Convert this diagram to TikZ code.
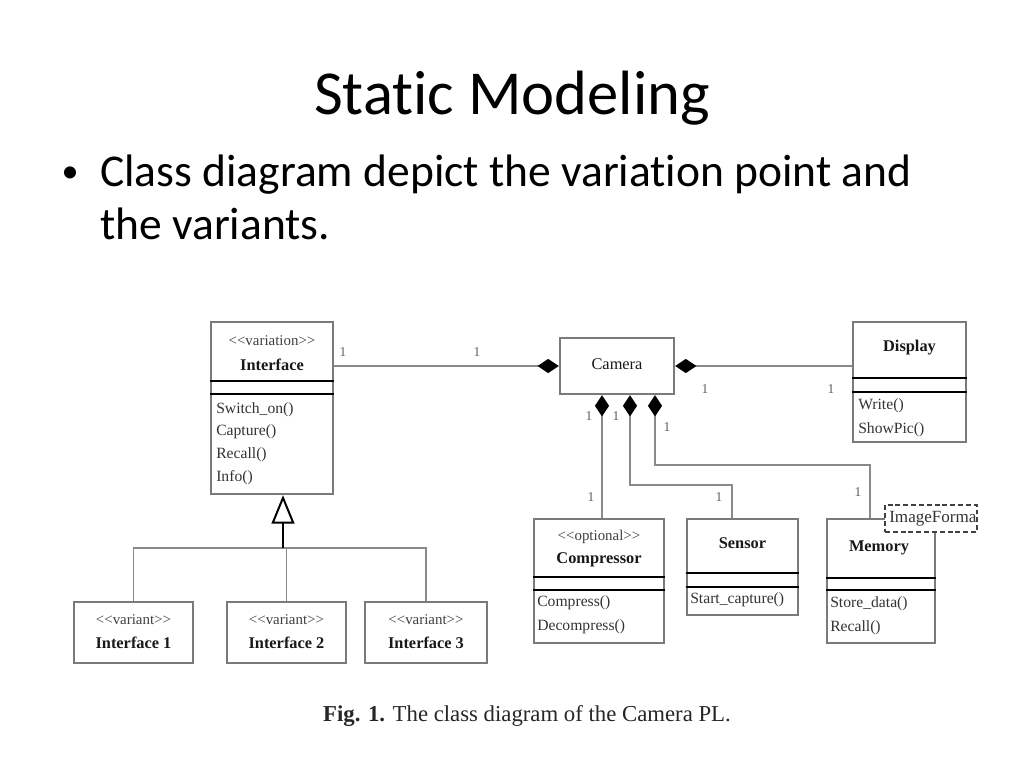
\documentclass[tikz,border=0pt]{standalone}
\usepackage{fontspec}
\setmainfont{Liberation Serif}
\newfontfamily\slidefont{Carlito}[Ligatures=NoCommon]
\usetikzlibrary{arrows.meta}
\newcommand{\pxu}{0.703125pt}
\newcommand{\stype}[1]{<\kern0pt<#1>\kern0pt>}
\definecolor{boxgray}{HTML}{7A7A7A}
\definecolor{linegray}{HTML}{8A8A8A}
\definecolor{multgray}{HTML}{606060}

\begin{document}
\begin{tikzpicture}[x=\pxu, y=-\pxu,
    cls/.style={draw=boxgray, line width=1.6pt, fill=white, inner sep=0pt},
    sep/.style={draw=black, line width=1.3pt},
    cname/.style={font=\fontsize{11.5}{13}\selectfont\bfseries, text=black!90},
    stereo/.style={font=\fontsize{10.5}{12}\selectfont, text=black!75},
    op/.style={anchor=west, inner sep=0pt, font=\fontsize{11}{13}\selectfont, text=black!80},
    mult/.style={font=\fontsize{9.5}{10}\selectfont, text=multgray},
    assoc/.style={draw=linegray, line width=1.4pt},
    haspart/.style={{Diamond[length=15pt,width=10pt,color=black,fill=black]}-},
    slide/.style={inner sep=0pt, font=\slidefont\fontsize{32}{38}\selectfont}]

  \fill[white] (0,0) rectangle (1024,768);

  \node[inner sep=0pt, anchor=base, font=\slidefont\fontsize{44}{53}\selectfont] (title) at (512,115) {Static Modeling};
  \node[inner sep=0pt, anchor=base, font=\slidefont\fontsize{24}{28}\selectfont] (bul) at (70,183) {\textbullet};
  \node[slide, anchor=base west] (line1) at (100,187) {Class diagram depict the variation point and};
  \node[slide, anchor=base west] (line2) at (100,240) {the variants.};

  % classes
  \node[cls, minimum width=122*\pxu, minimum height=172*\pxu] (iface) at (272,408) {};
  \node[cls, minimum width=114*\pxu, minimum height=56*\pxu] (cam) at (617,366) {};
  \node[cls, minimum width=113*\pxu, minimum height=120*\pxu] (disp) at (909.5,382) {};
  \node[cls, minimum width=130*\pxu, minimum height=124*\pxu] (comp) at (599,581) {};
  \node[cls, minimum width=111*\pxu, minimum height=96*\pxu] (sens) at (742.5,567) {};
  \node[cls, minimum width=108*\pxu, minimum height=124*\pxu] (mem) at (881,581) {};
  \node[cls, minimum width=119*\pxu, minimum height=61*\pxu] (v1) at (133.5,632.5) {};
  \node[cls, minimum width=119*\pxu, minimum height=61*\pxu] (v2) at (286.5,632.5) {};
  \node[cls, minimum width=122*\pxu, minimum height=61*\pxu] (v3) at (426,632.5) {};

  \draw[sep] (iface.west |- 0,381) -- (iface.east |- 0,381);
  \draw[sep] (iface.west |- 0,394) -- (iface.east |- 0,394);
  \draw[sep] (disp.west |- 0,378) -- (disp.east |- 0,378);
  \draw[sep] (disp.west |- 0,392) -- (disp.east |- 0,392);
  \draw[sep] (comp.west |- 0,577) -- (comp.east |- 0,577);
  \draw[sep] (comp.west |- 0,590) -- (comp.east |- 0,590);
  \draw[sep] (sens.west |- 0,573) -- (sens.east |- 0,573);
  \draw[sep] (sens.west |- 0,587) -- (sens.east |- 0,587);
  \draw[sep] (mem.west |- 0,578) -- (mem.east |- 0,578);
  \draw[sep] (mem.west |- 0,590) -- (mem.east |- 0,590);

  \node[stereo] (ifaceS) at (272,341) {\stype{variation}};
  \node[cname] (ifaceN) at (272,365) {Interface};
  \node[op] (ifaceA) at (216,410) {Switch\_on()};
  \node[op] (ifaceB) at (216,432) {Capture()};
  \node[op] (ifaceC) at (216,455) {Recall()};
  \node[op] (ifaceD) at (216,478) {Info()};

  \node[cname, font=\fontsize{11.5}{13}\selectfont] (camN) at (617,364) {Camera};

  \node[cname] (dispN) at (909.5,348) {Display};
  \node[op] (dispA) at (858,406) {Write()};
  \node[op] (dispB) at (858,430) {ShowPic()};

  \node[stereo] (compS) at (599,537) {\stype{optional}};
  \node[cname] (compN) at (599,560) {Compressor};
  \node[op] (compA) at (537,603) {Compress()};
  \node[op] (compB) at (537,627) {Decompress()};

  \node[cname] (sensN) at (742.5,543) {Sensor};
  \node[op] (sensA) at (690,600) {Start\_capture()};

  \node[cname] (memN) at (879,548) {Memory};
  \node[op] (memA) at (830,604) {Store\_data()};
  \node[op] (memB) at (830,628) {Recall()};

  \node[draw=black!75, dashed, dash pattern=on 3.5pt off 2pt, line width=1pt, fill=white,
        minimum width=92*\pxu, minimum height=27*\pxu, inner sep=0pt] (img) at (931,518.5) {};
  \begin{scope}
    \clip ([xshift=-1pt]img.north east) rectangle (img.south west);
    \node[op, font=\fontsize{12}{14}\selectfont] (imgN) at (889,518.5) {ImageFormat};
  \end{scope}

  \node[stereo] (v1S) at (133.5,620) {\stype{variant}};
  \node[cname] (v1N) at (133.5,643) {Interface 1};
  \node[stereo] (v2S) at (286.5,620) {\stype{variant}};
  \node[cname] (v2N) at (286.5,643) {Interface 2};
  \node[stereo] (v3S) at (426,620) {\stype{variant}};
  \node[cname] (v3N) at (426,643) {Interface 3};

  % connectors
  \draw[assoc, haspart] (cam.west) -- (iface.east |- cam.west);
  \draw[assoc, haspart] (cam.east) -- (disp.west |- cam.east);
  \draw[assoc, haspart] (cam.south -| 602,0) -- (comp.north -| 602,0);
  \draw[assoc, haspart] (cam.south -| 630,0) -- (630,485) -| (sens.north -| 732,0);
  \draw[assoc, haspart] (cam.south -| 655,0) -- (655,465) -| (mem.north -| 870,0);

  \coordinate (gj) at (283,548);
  \draw[assoc] (v1.north) -- (v1.north |- gj) -- (v3.north |- gj) -- (v3.north);
  \draw[assoc] (gj -| v2.north) -- (v2.north);
  \draw[line width=1.4pt, {Triangle[open,length=20pt,width=16pt,fill=white]}-] (iface.south -| gj) -- (gj);

  \foreach \mx/\my [count=\i] in {343/352, 477/352, 705/389, 831/389, 589/416,
      616/416, 667/427, 591/497, 719/497, 858/492}
    \node[mult] (m\i) at (\mx,\my) {1};

  \node[font=\fontsize{16}{19}\selectfont, text=black!85] (cap) at (527,716) {\textbf{Fig. 1.} The class diagram of the Camera PL.};
\end{tikzpicture}
\end{document}
